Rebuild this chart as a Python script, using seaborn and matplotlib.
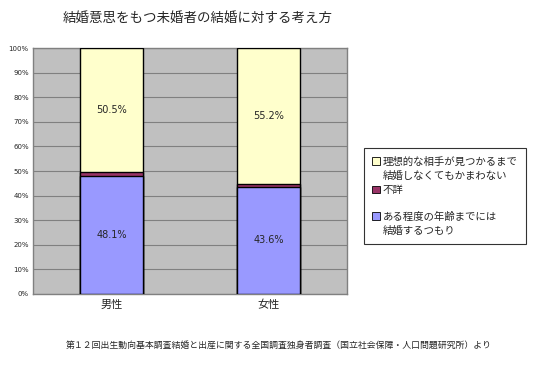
import matplotlib
matplotlib.use("Agg")
import matplotlib.pyplot as plt
import seaborn as sns
import pandas as pd
from matplotlib.patches import Patch

categories = ["男性", "女性"]
marry_by_age = [48.1, 43.6]
unknown = [1.4, 1.2]
wait_ideal = [50.5, 55.2]
legend_lines = [
    ("#FFFFCC", "理想的な相手が見つかるまで"),
    (None, "結婚しなくてもかまわない"),
    ("#993366", "不詳"),
    (None, " "),
    ("#9999FF", "ある程度の年齢までには"),
    (None, "結婚するつもり"),
]
colors = ["#FFFFCC", "#993366", "#9999FF"]
yticks = list(range(0, 101, 10))

sns.set_theme(style="white")
plt.rcParams['font.family'] = ['Noto Sans CJK JP', 'DejaVu Sans']

fig = plt.figure(figsize=(5.34, 3.82), dpi=100)
ax = fig.add_axes([0.0618, 0.2304, 0.5880, 0.6439])
ax.set_facecolor("#C0C0C0")

cum1 = [a for a in marry_by_age]
cum2 = [a + b for a, b in zip(marry_by_age, unknown)]
cum3 = [a + b + c for a, b, c in zip(marry_by_age, unknown, wait_ideal)]

df = pd.DataFrame({"cat": categories, "c1": cum1, "c2": cum2, "c3": cum3})
for col, color in zip(["c3", "c2", "c1"], colors):
    sns.barplot(data=df, x="cat", y=col, color=color, width=0.4,
                edgecolor="black", linewidth=1.0, ax=ax, saturation=1, zorder=3)

for i in range(len(categories)):
    ax.text(i, marry_by_age[i] / 2, f"{marry_by_age[i]}%", ha="center", va="center",
            fontsize=7, family=['DejaVu Sans'], zorder=5)
    ax.text(i, cum2[i] + wait_ideal[i] / 2, f"{wait_ideal[i]}%", ha="center", va="center",
            fontsize=7, family=['DejaVu Sans'], zorder=5)

ax.set_ylim(0, 100)
ax.set_xlim(-0.5, 1.5)
ax.set_yticks(yticks)
ax.set_yticklabels([f"{t}%" for t in yticks], fontsize=5, family=['DejaVu Sans'])
ax.yaxis.grid(True, color="#808080", linewidth=0.8, zorder=0)
ax.set_axisbelow(True)
ax.set_xlabel("")
ax.set_ylabel("")
ax.tick_params(axis="x", labelsize=8, length=0, pad=4)
ax.tick_params(axis="y", length=0, pad=3)
for s in ["top", "right", "left", "bottom"]:
    ax.spines[s].set_color("#808080")
    ax.spines[s].set_linewidth(1.0)

handles = []
labels = []
for c, lab in legend_lines:
    if c is None:
        handles.append(Patch(facecolor="none", edgecolor="none"))
    else:
        handles.append(Patch(facecolor=c, edgecolor="black", linewidth=0.6))
    labels.append(lab)
leg = fig.legend(handles, labels, loc="upper left", bbox_to_anchor=(0.672, 0.626),
                 fontsize=7.5, frameon=True, fancybox=False, edgecolor="black",
                 handlelength=0.7, handleheight=0.7, handletextpad=0.3,
                 labelspacing=0.4, borderpad=0.8)
leg.get_texts()[3].set_fontsize(4)
leg.get_frame().set_linewidth(0.8)

fig.text(0.371, 0.953, "結婚意思をもつ未婚者の結婚に対する考え方", ha="center", va="center", fontsize=9.7)
fig.text(0.522, 0.095, "第１２回出生動向基本調査結婚と出産に関する全国調査独身者調査（国立社会保障・人口問題研究所）より",
         ha="center", va="center", fontsize=6.4)

fig.savefig("out.png", dpi=100)
